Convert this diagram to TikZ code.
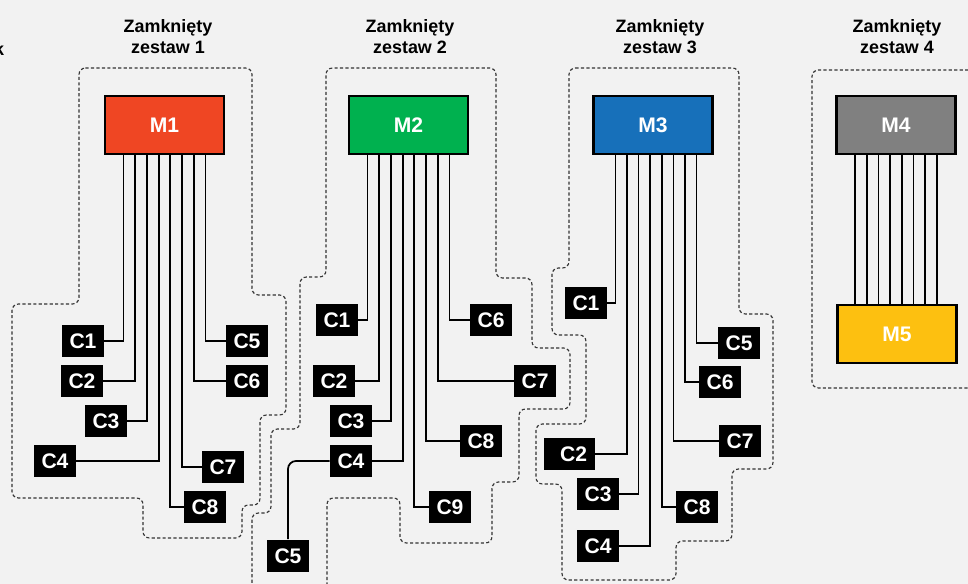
\documentclass[tikz,border=0pt]{standalone}
\usepackage{fontspec}
\setmainfont{Liberation Sans}
\definecolor{bgcol}{HTML}{F2F2F2}
\definecolor{mred}{HTML}{EF4623}
\definecolor{mgreen}{HTML}{00B14F}
\definecolor{mblue}{HTML}{1770BA}
\definecolor{mgray}{HTML}{808080}
\definecolor{myellow}{HTML}{FDC010}
\tikzset{
  modbox/.style={draw=black,line width=1.2pt,minimum width=2.38cm,minimum height=1.16cm,inner sep=0pt,text=white,font=\bfseries\fontsize{12}{14}\selectfont},
  cbox/.style={fill=black,text=white,minimum width=0.84cm,minimum height=0.66cm,inner sep=0pt,font=\bfseries\fontsize{12}{14}\selectfont},
  settitle/.style={align=center,anchor=north,inner sep=0pt,font=\bfseries\fontsize{10.2}{12.2}\selectfont},
  wire/.style={draw=black,line width=1pt},
  bound/.style={draw=black!80,line width=0.65pt,dash pattern=on 1.8pt off 1.3pt,rounded corners=0.13cm}
}
\begin{document}
\begin{tikzpicture}[x=0.02cm,y=-0.02cm]
\fill[bgcol] (0,0) rectangle (968,584);
\clip (0,0) rectangle (968,584);

\node[settitle,anchor=base east] (cut) at (4.5,55.5) {k};
\node[settitle] (t1) at (168,19) {Zamknięty\\zestaw 1};
\node[settitle] (t2) at (410,19) {Zamknięty\\zestaw 2};
\node[settitle] (t3) at (660,19) {Zamknięty\\zestaw 3};
\node[settitle] (t4) at (897,19) {Zamknięty\\zestaw 4};

\draw[bound] (79,68) -- (252,68) -- (252,295) -- (286,295) -- (286,415) -- (260,415) -- (260,505) -- (242,505) -- (242,538) -- (143,538) -- (143,498) -- (12,498) -- (12,304) -- (79,304) -- cycle;
\draw[bound] (252,610) -- (252,513) -- (271,513) -- (271,429) -- (300,429) -- (300,277) -- (326,277) -- (326,68) -- (496,68) -- (496,278) -- (532,278) -- (532,348) -- (570,348) -- (570,409) -- (519,409) -- (519,482) -- (492,482) -- (492,543) -- (400,543) -- (400,498) -- (327,498) -- (327,610);
\draw[bound] (569,68) -- (739,68) -- (739,314) -- (773,314) -- (773,469) -- (732,469) -- (732,541) -- (676,541) -- (676,580) -- (562,580) -- (562,484) -- (536,484) -- (536,424) -- (586,424) -- (586,335) -- (552,335) -- (552,268) -- (569,268) -- cycle;
\draw[bound] (990,70) -- (812,70) -- (812,388) -- (990,388);

\node[modbox,fill=mred] (m1) at (164.5,125) {M1};
\node[cbox] (s1c1) at (83,341) {C1};
\node[cbox] (s1c2) at (82,381) {C2};
\node[cbox] (s1c3) at (106,421) {C3};
\node[cbox] (s1c4) at (55,461) {C4};
\node[cbox] (s1c5) at (247,341) {C5};
\node[cbox] (s1c6) at (247,381) {C6};
\node[cbox] (s1c7) at (223,467) {C7};
\node[cbox] (s1c8) at (205,507) {C8};
\foreach \k/\t in {1/s1c1,2/s1c2,3/s1c3,4/s1c4,5/s1c8,6/s1c7,7/s1c6,8/s1c5}
  \draw[wire] (m1.south) ++({(\k-4.5)*11.7},0) |- (\t);

\node[modbox,fill=mgreen] (m2) at (408.5,125) {M2};
\node[cbox] (s2c1) at (337,320) {C1};
\node[cbox] (s2c2) at (334,381) {C2};
\node[cbox] (s2c3) at (351,421) {C3};
\node[cbox] (s2c4) at (351,461) {C4};
\node[cbox] (s2c5) at (288,556) {C5};
\node[cbox] (s2c6) at (491,320) {C6};
\node[cbox] (s2c7) at (535,381) {C7};
\node[cbox] (s2c8) at (481,441) {C8};
\node[cbox] (s2c9) at (450,507) {C9};
\foreach \k/\t in {1/s2c1,2/s2c2,3/s2c3,4/s2c4,5/s2c9,6/s2c8,7/s2c7,8/s2c6}
  \draw[wire] (m2.south) ++({(\k-4.5)*11.7},0) |- (\t);
\draw[wire,rounded corners=0.16cm] (s2c4) -| (s2c5);

\node[modbox,fill=mblue] (m3) at (653,125) {M3};
\node[cbox] (s3c1) at (586,303) {C1};
\node[cbox,minimum width=1.02cm,text width=0.7cm,align=right] (s3c2) at (569.5,454) {C2};
\node[cbox] (s3c3) at (598,494) {C3};
\node[cbox] (s3c4) at (598,546) {C4};
\node[cbox] (s3c5) at (739,343) {C5};
\node[cbox] (s3c6) at (720,382) {C6};
\node[cbox] (s3c7) at (740,441) {C7};
\node[cbox] (s3c8) at (697,507) {C8};
\foreach \k/\t in {1/s3c1,2/s3c2,3/s3c3,4/s3c4,5/s3c8,6/s3c7,7/s3c6,8/s3c5}
  \draw[wire] (m3.south) ++({(\k-4.5)*11.6+3},0) |- (\t);

\node[modbox,fill=mgray] (m4) at (896,125) {M4};
\node[modbox,fill=myellow] (m5) at (897,334) {M5};
\foreach \k in {1,...,8}
  \draw[wire] (m4.south) ++({(\k-4.5)*11.7},0) coordinate (top) -- (top |- m5.north);
\end{tikzpicture}
\end{document}
